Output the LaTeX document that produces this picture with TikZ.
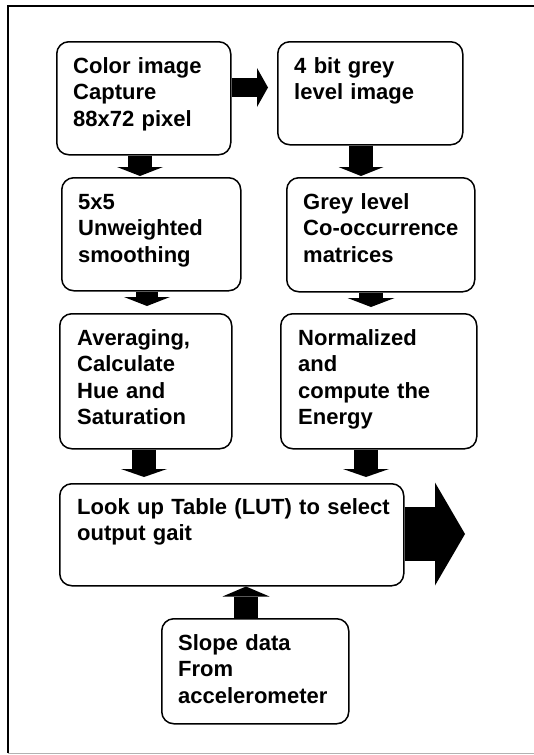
\documentclass[tikz,border=0pt]{standalone}
\usepackage{fontspec}
\setmainfont{Liberation Sans}
\usetikzlibrary{arrows.meta}
\begin{document}
\begin{tikzpicture}[x=1pt,y=-1pt,
  box/.style={draw, line width=1.5pt, rounded corners=12pt, inner sep=0pt, anchor=north west},
  lbl/.style={anchor=base west, inner sep=0pt, text width=#1, align=left,
    font=\fontsize{22}{26.5}\selectfont\bfseries},
  lbl/.default=200pt,
  blk/.style n args={3}{line width=#1, -{Triangle[width=#2, length=#3, line width=0pt]}}
]
\useasboundingbox (0,0) rectangle (534,755);

% outer frame
\draw[line width=1.5pt] (8,753) -- (8,6) -- (534,6);
\draw[gray!60, line width=1pt] (8,753) -- (534,753);

% process boxes
\node[box, minimum width=174pt, minimum height=113pt] (b1) at (56,41) {};
\node[box, minimum width=185pt, minimum height=103pt] (b2) at (277,41) {};
\node[box, minimum width=179pt, minimum height=113pt] (b3) at (61,177) {};
\node[box, minimum width=188pt, minimum height=114pt] (b4) at (286,177) {};
\node[box, minimum width=172pt, minimum height=135pt] (b5) at (59,313) {};
\node[box, minimum width=196pt, minimum height=135pt] (b6) at (280,313) {};
\node[box, minimum width=344pt, minimum height=102pt] (b7) at (59,483) {};
\node[box, minimum width=187pt, minimum height=105pt] (b8) at (161,618) {};

% box texts
\node[lbl] (t1) at ([xshift=17pt,yshift=-32pt]b1.north west) {Color image\\Capture\\88x72 pixel};
\node[lbl] (t2) at ([xshift=17pt,yshift=-32pt]b2.north west) {4 bit grey\\level image};
\node[lbl] (t3) at ([xshift=17pt,yshift=-32pt]b3.north west) {5x5\\Unweighted\\smoothing};
\node[lbl] (t4) at ([xshift=17pt,yshift=-32pt]b4.north west) {Grey level\\Co-occurrence\\matrices};
\node[lbl] (t5) at ([xshift=18pt,yshift=-32pt]b5.north west) {Averaging,\\Calculate\\Hue and\\Saturation};
\node[lbl] (t6) at ([xshift=18pt,yshift=-32pt]b6.north west) {Normalized\\and\\compute the\\Energy};
\node[lbl=340pt] (t7) at ([xshift=18pt,yshift=-31pt]b7.north west) {Look up Table (LUT) to select\\output gait};
\node[lbl] (t8) at ([xshift=17pt,yshift=-32pt]b8.north west) {Slope data\\From\\accelerometer};

% block arrows
\draw[blk={19pt}{39pt}{11pt}] (b1.east |- 0,87.5) -- ([xshift=-9pt]b2.west |- 0,87.5);
\draw[blk={24pt}{46pt}{9pt}] (140,0 |- b1.south) -- ([yshift=1pt]140,0 |- b3.north);
\draw[blk={24pt}{45pt}{9pt}] (361,0 |- b2.south) -- ([yshift=1pt]361,0 |- b4.north);
\draw[blk={22pt}{46pt}{9pt}] (147,0 |- b3.south) -- ([yshift=7pt]147,0 |- b5.north);
\draw[blk={24pt}{47pt}{9pt}] (371,0 |- b4.south) -- ([yshift=6pt]371,0 |- b6.north);
\draw[blk={24pt}{46pt}{8pt}] (144,0 |- b5.south) -- ([yshift=6pt]144,0 |- b7.north);
\draw[blk={24pt}{46pt}{8pt}] (366,0 |- b6.south) -- ([yshift=6pt]366,0 |- b7.north);
\draw[blk={24pt}{47pt}{10pt}] (246,0 |- b8.north) -- (246,0 |- b7.south);
\coordinate (gait) at (465,534);
\draw[blk={54pt}{103pt}{30pt}] (b7.east |- gait) -- (gait);
\end{tikzpicture}
\end{document}
